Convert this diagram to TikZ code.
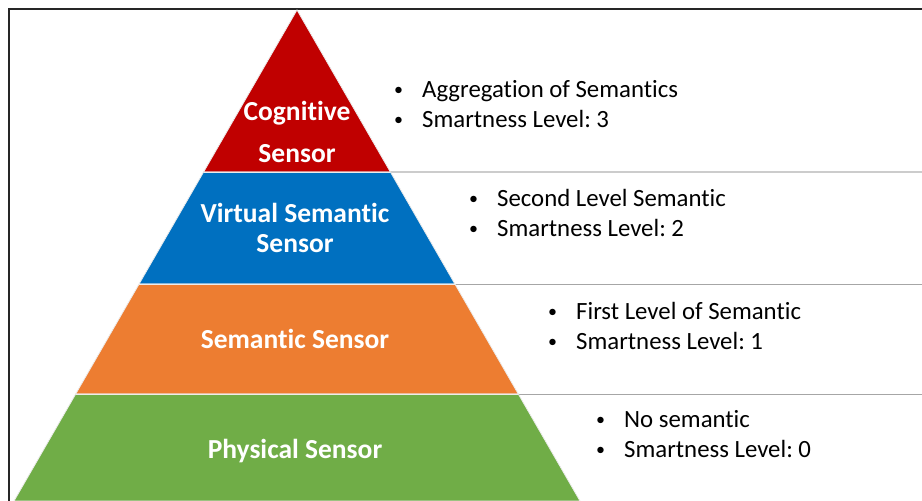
\documentclass[tikz,border=0pt]{standalone}
\usepackage{fontspec}
\setmainfont{Carlito}[Ligatures=NoCommon]
\usepackage{tikz}
\usetikzlibrary{backgrounds}
\definecolor{cogred}{RGB}{192,0,0}
\definecolor{virtblue}{RGB}{0,112,192}
\definecolor{semorange}{RGB}{237,125,49}
\definecolor{physgreen}{RGB}{112,173,71}
\pgfdeclarelayer{edgelayer}
\pgfdeclarelayer{nodelayer}
\pgfsetlayers{edgelayer,main,nodelayer}
\tikzstyle{level}=[draw=white!85!gray, line width=0.8]
\tikzstyle{divider}=[draw=gray!40, line width=1.5]
\tikzstyle{frame}=[draw=black!85, line width=1.5]
\tikzstyle{layername}=[text=white, font=\fontsize{27.5}{30}\selectfont\bfseries, align=center, inner sep=0]
\tikzstyle{bullets}=[anchor=west, align=left, font=\fontsize{24.8}{30}\selectfont\frenchspacing, inner sep=0]
\newcommand{\layeritem}[1]{\makebox[28pt][l]{\raisebox{2pt}{\fontsize{18}{18}\selectfont\textbullet}}#1}

\begin{document}
\begin{tikzpicture}[x=1pt, y=-1pt]
            \useasboundingbox (0, 0) rectangle (922, 501);
            \coordinate (apex) at (297, 10);
            \coordinate (l1) at (203.6, 172);
            \coordinate (r1) at (390.4, 172);
            \coordinate (l2) at (139.1, 284);
            \coordinate (r2) at (454.9, 284);
            \coordinate (l3) at (75.7, 394);
            \coordinate (r3) at (518.3, 394);
            \coordinate (l4) at (14, 501);
            \coordinate (r4) at (580, 501);
            \coordinate (e1) at (922, 172);
            \coordinate (e2) at (922, 284);
            \coordinate (e3) at (922, 394);
            \begin{pgfonlayer}{edgelayer}
                \draw [style=frame] (922, 9) -- (9, 9) -- (9, 501);
                \draw [style=divider] (r1) -- (e1);
                \draw [style=divider, draw=gray!70, line width=1] (r2) -- (e2);
                \draw [style=divider, draw=gray!70, line width=1] (r3) -- (e3);
            \end{pgfonlayer}
            \fill [style=level, fill=cogred] (apex) -- (r1) -- (l1) -- cycle;
            \fill [style=level, fill=virtblue] (l1) -- (r1) -- (r2) -- (l2) -- cycle;
            \fill [style=level, fill=semorange] (l2) -- (r2) -- (r3) -- (l3) -- cycle;
            \fill [style=level, fill=physgreen] (l3) -- (r3) -- (r4) -- (l4) -- cycle;
            \draw [style=level] (l1) -- (r1);
            \draw [style=level] (l2) -- (r2);
            \draw [style=level] (l3) -- (r3);
            \begin{pgfonlayer}{nodelayer}
                \node [style=layername] (cognitive) at (297, 132) {Cognitive\\[12pt]Sensor};
                \node [style=layername] (virtual) at (295, 228) {Virtual Semantic\\Sensor};
                \node [style=layername] (semantic) at (295, 339) {Semantic Sensor};
                \node [style=layername] (physical) at (295, 451) {Physical Sensor};
                \node [style=bullets] (cogtext) at (394, 104) {\layeritem{Aggregation of Semantics}\\\layeritem{Smartness Level: 3}};
                \node [style=bullets] (virttext) at (469, 213) {\layeritem{Second Level Semantic}\\\layeritem{Smartness Level: 2}};
                \node [style=bullets] (semtext) at (548, 326) {\layeritem{First Level of Semantic}\\\layeritem{Smartness Level: 1}};
                \node [style=bullets] (phystext) at (596, 434) {\layeritem{No semantic}\\\layeritem{Smartness Level: 0}};
            \end{pgfonlayer}
        \end{tikzpicture}
\end{document}
